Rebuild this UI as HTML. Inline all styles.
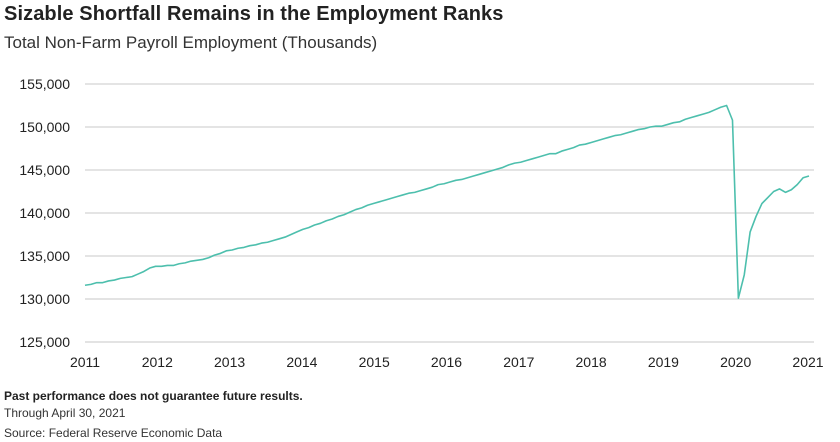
<!DOCTYPE html>
<html><head><meta charset="utf-8"><style>
body{margin:0;background:#fff;font-family:"Liberation Sans",sans-serif;}
#wrap{position:relative;width:840px;height:442px;overflow:hidden;}
.t{position:absolute;white-space:nowrap;color:#222;}
</style></head><body>
<div id="wrap">
<div class="t" style="left:4px;top:3px;font-size:20px;font-weight:bold;letter-spacing:0.1px;">Sizable Shortfall Remains in the Employment Ranks</div>
<div class="t" style="left:4px;top:33px;font-size:17px;color:#333;">Total Non-Farm Payroll Employment (Thousands)</div>
<svg id="chart" width="840" height="442" style="position:absolute;left:0;top:0"></svg>
<div class="t" style="left:4px;top:389px;font-size:12px;font-weight:bold;">Past performance does not guarantee future results.</div>
<div class="t" style="left:4px;top:406px;font-size:12px;color:#333;">Through April 30, 2021</div>
<div class="t" style="left:4px;top:426px;font-size:12px;color:#333;">Source: Federal Reserve Economic Data</div>
</div>
<script>
const yTicks = [125000,130000,135000,140000,145000,150000,155000];
const yTickLabels = ["125,000","130,000","135,000","140,000","145,000","150,000","155,000"];
const xYears = [2011,2012,2013,2014,2015,2016,2017,2018,2019,2020,2021];
const payroll2011 = [131.6,131.7,131.9,131.9,132.1,132.2,132.4,132.5,132.6,132.9,133.2,133.6];
const payroll2012 = [133.8,133.8,133.9,133.9,134.1,134.2,134.4,134.5,134.6,134.8,135.1,135.3];
const payroll2013 = [135.6,135.7,135.9,136.0,136.2,136.3,136.5,136.6,136.8,137.0,137.2,137.5];
const payroll2014 = [137.8,138.1,138.3,138.6,138.8,139.1,139.3,139.6,139.8,140.1,140.4,140.6];
const payroll2015 = [140.9,141.1,141.3,141.5,141.7,141.9,142.1,142.3,142.4,142.6,142.8,143.0];
const payroll2016 = [143.3,143.4,143.6,143.8,143.9,144.1,144.3,144.5,144.7,144.9,145.1,145.3];
const payroll2017 = [145.6,145.8,145.9,146.1,146.3,146.5,146.7,146.9,146.9,147.2,147.4,147.6];
const payroll2018 = [147.9,148.0,148.2,148.4,148.6,148.8,149.0,149.1,149.3,149.5,149.7,149.8];
const payroll2019 = [150.0,150.1,150.1,150.3,150.5,150.6,150.9,151.1,151.3,151.5,151.7,152.0];
const payroll2020 = [152.3,152.5,150.8,130.1,132.8,137.8,139.6,141.1,141.8,142.5,142.8,142.4];
const payroll2021 = [142.7,143.3,144.1,144.3];

const series = [].concat(payroll2011,payroll2012,payroll2013,payroll2014,payroll2015,payroll2016,payroll2017,payroll2018,payroll2019,payroll2020,payroll2021).map(v=>v*1000);
const NS="http://www.w3.org/2000/svg";
const svg=document.getElementById('chart');
const X0=85,X1=808,Y0=342,Y1=84;
function yScale(v){return Y0-(v-125000)/(155000-125000)*(Y0-Y1);}
function xIdx(i){return X0+i*(809-X0)/(series.length-1);}
function xYear(y){return X0+(y-2011)/(2021-2011)*(X1-X0);}
function mk(tag,attrs){const e=document.createElementNS(NS,tag);for(const k in attrs)e.setAttribute(k,attrs[k]);svg.appendChild(e);return e;}

yTicks.forEach((v,k)=>{
  const y=yScale(v);
  const base=v<=130000;
  const g=mk('line',{x1:85,x2:814,y1:y,y2:y,stroke:base?'#e3e3e3':'#d4d4d4','stroke-width':base?2:1.2});
  
  
  const t=mk('text',{x:70,y:y+5,'text-anchor':'end','font-size':14,fill:'#222','font-family':'Liberation Sans, sans-serif'});
  t.textContent=yTickLabels[k];
  
  
});
xYears.forEach(yr=>{
  const t=mk('text',{x:xYear(yr),y:367,'text-anchor':'middle','font-size':14,fill:'#222','font-family':'Liberation Sans, sans-serif'});
  t.textContent=yr;
  
  
});
const d=series.map((v,i)=>(i?'L':'M')+xIdx(i).toFixed(2)+','+yScale(v).toFixed(2)).join('');
const p=mk('path',{d:d,fill:'none',stroke:'#4dbfad','stroke-width':1.6,'stroke-linejoin':'round'});


</script>
</body></html>
